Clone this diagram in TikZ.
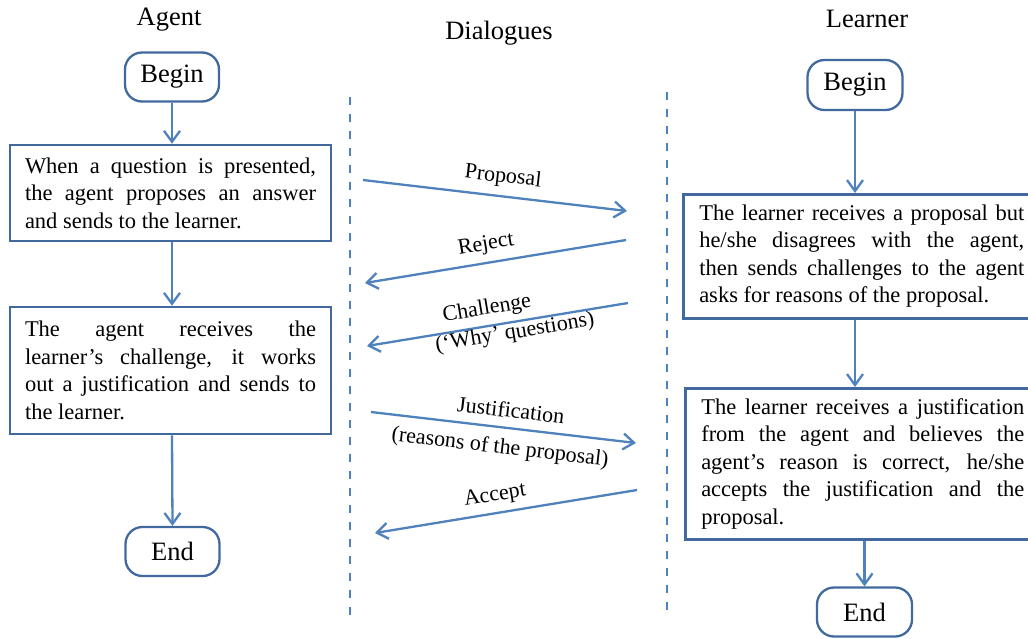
\documentclass[tikz,border=0pt]{standalone}
\usepackage{fontspec}
\setmainfont{Liberation Serif}
\usetikzlibrary{arrows.meta}
\definecolor{flowblue}{HTML}{4F81BD}
\definecolor{boxblue}{HTML}{41699E}
\begin{document}
\begin{tikzpicture}[x=1pt,y=-1pt,
  title/.style={font=\fontsize{26.5}{30}\selectfont, inner sep=0pt},
  terminal/.style={draw=boxblue, line width=2.3pt, rounded corners=17pt,
    minimum width=94pt, minimum height=49pt, inner sep=0pt,
    font=\fontsize{26.5}{30}\selectfont},
  stepbox/.style={draw=boxblue, line width=2.5pt, inner xsep=15pt, inner ysep=0pt,
    align=justify, font=\fontsize{22.5}{27.5}\selectfont},
  flow/.style={draw=flowblue, line width=2.3pt,
    -{Straight Barb[length=11pt,width=16pt]}},
  msg/.style={font=\fontsize{22}{26}\selectfont, inner sep=0pt},
  lane/.style={draw=flowblue, line width=2.5pt, dash pattern=on 8pt off 9pt}
]
\clip (0,0) rectangle (1028,638);

% column headings
\node[title] (tAgent) at (169,20) {Agent};
\node[title] (tDialog) at (499,33) {Dialogues};
\node[title] (tLearner) at (867,19) {Learner};

% agent flow
\node[terminal] (bL) at (172,77) {Begin};
\node[stepbox, text width=291pt, minimum height=96pt] (a1) at (170.5,193)
  {When a question is presented,\linebreak the agent proposes an answer\linebreak and sends to the learner.};
\node[stepbox, text width=291pt, minimum height=127pt] (a2) at (170.5,370.5)
  {The agent receives the\linebreak learner’s challenge, it works\linebreak out a justification and sends to\linebreak the learner.};
\node[terminal] (eL) at (172.5,551.5) {End};

\draw[flow] (bL.south) -- (bL.south |- a1.north);
\draw[flow] (bL.south |- a1.south) -- (bL.south |- a2.north);
\draw[flow] (bL.south |- a2.south) -- (eL.north);

% learner flow
\node[terminal, minimum width=95pt, minimum height=50pt] (bR) at (855,85) {Begin};
\node[stepbox, anchor=north west, inner xsep=16pt, text width=325pt, minimum height=124pt] (l1) at (682,193)
  {The learner receives a proposal but\linebreak he/she disagrees with the agent,\linebreak then sends challenges to the agent\linebreak asks for reasons of the proposal.};
\node[stepbox, anchor=north west, inner xsep=16pt, text width=323pt, minimum height=151pt] (l2) at (684,387)
  {The learner receives a justification\linebreak from the agent and believes the\linebreak agent’s reason is correct, he/she\linebreak accepts the justification and the\linebreak proposal.};
\node[terminal, minimum width=95pt] (eR) at (864.5,612) {End};

\draw[flow] (bR.south) -- (bR.south |- l1.north);
\draw[flow] (bR.south |- l1.south) -- (bR.south |- l2.north);
\draw[flow] (eR.north |- l2.south) -- (eR.north);

% swim-lane separators
\coordinate (sepL1) at (350,97);
\coordinate (sepL2) at (350,618);
\coordinate (sepR1) at (667,92);
\coordinate (sepR2) at (667,612);
\draw[lane] (sepL1) -- (sepL2);
\draw[lane] (sepR1) -- (sepR2);

% dialogue messages
\coordinate (p1) at (363,180);  \coordinate (p2) at (627,211);
\coordinate (r1) at (626,240);  \coordinate (r2) at (365,283);
\coordinate (c1) at (628,303);  \coordinate (c2) at (367,346);
\coordinate (j1) at (371,412);  \coordinate (j2) at (636,443);
\coordinate (k1) at (637,490);  \coordinate (k2) at (375,533);

\draw[flow] (p1) -- (p2);
\draw[flow] (r1) -- (r2);
\draw[flow] (c1) -- (c2);
\draw[flow] (j1) -- (j2);
\draw[flow] (k1) -- (k2);

\node[msg, rotate=-6.7] (mProp) at (503,177) {Proposal};
\node[msg, rotate=9.4] (mRej) at (486,245) {Reject};
\node[msg, rotate=9.4] (mChal) at (487,309) {Challenge};
\node[msg, rotate=9.4] (mWhy) at (515,333) {(‘Why’ questions)};
\node[msg, rotate=-6.7] (mJust) at (511,410) {Justification};
\node[msg, rotate=-6.7] (mReas) at (500,448) {(reasons of the proposal)};
\node[msg, rotate=9.3] (mAcc) at (495,496) {Accept};
\end{tikzpicture}
\end{document}
